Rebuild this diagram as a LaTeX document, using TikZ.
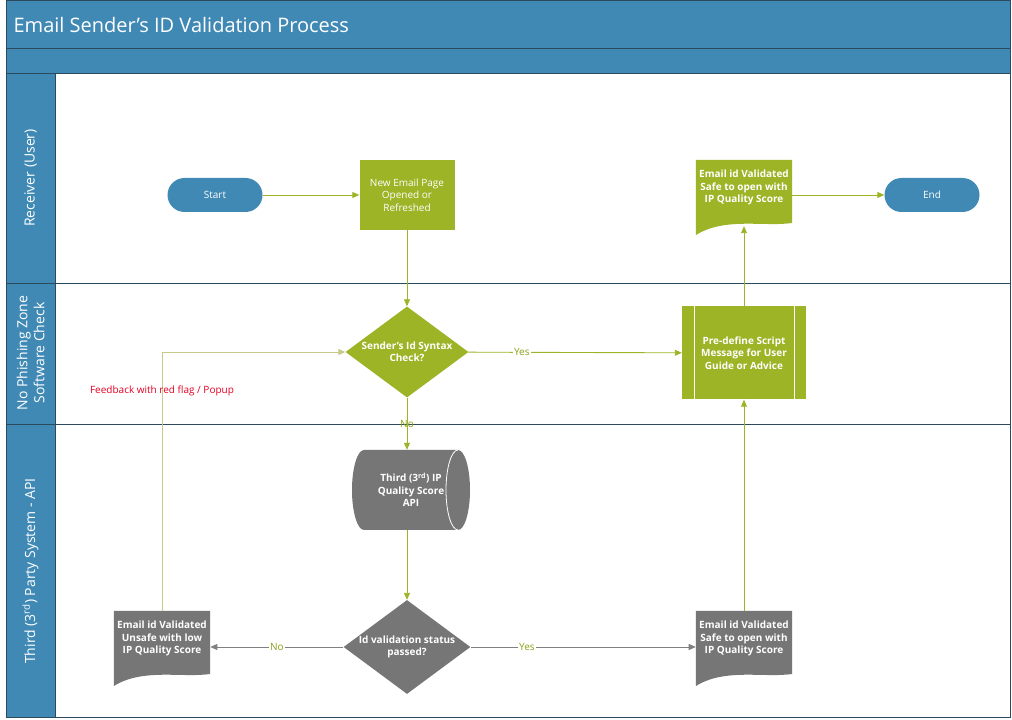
\documentclass[tikz,border=0pt]{standalone}
\usepackage{fontspec}
\setmainfont{Open Sans}
\usetikzlibrary{shapes.geometric,arrows.meta,calc}

\definecolor{laneblue}{RGB}{64,137,181}
\definecolor{laneline}{RGB}{44,74,94}
\definecolor{stepgreen}{RGB}{156,180,38}
\definecolor{stepgray}{RGB}{118,118,118}
\definecolor{linegray}{RGB}{128,128,128}
\definecolor{paleolive}{RGB}{199,201,138}
\definecolor{labelgreen}{RGB}{138,160,20}
\definecolor{flagred}{RGB}{228,0,34}

\tikzset{
  boxfont/.style={font=\fontsize{10}{12.5}\selectfont},
  boldfont/.style={font=\fontsize{10}{12.5}\selectfont\bfseries},
  terminal/.style={rectangle, rounded corners=17pt, fill=laneblue, text=white,
    minimum width=95pt, minimum height=34pt, boxfont},
  process/.style={rectangle, fill=stepgreen, text=white, align=center,
    minimum width=95pt, minimum height=70pt, boxfont},
  decision/.style={diamond, fill=#1, text=white, align=center, inner sep=0pt,
    shape aspect=1.35, minimum width=123pt, minimum height=91pt, boldfont},
  predef/.style={rectangle, fill=stepgreen, text=white, align=center,
    minimum width=124pt, minimum height=93pt, boldfont,
    path picture={
      \draw[white, line width=0.8pt]
        ($(path picture bounding box.north west)+(12pt,0)$) -- ($(path picture bounding box.south west)+(12pt,0)$)
        ($(path picture bounding box.north east)+(-12pt,0)$) -- ($(path picture bounding box.south east)+(-12pt,0)$);
    }},
  document/.style={rectangle, draw=none, text=white, align=center, text depth=22pt,
    minimum width=95pt, minimum height=75pt, boldfont,
    path picture={
      \fill[#1] let \p1=(path picture bounding box.south west),
                    \p2=(path picture bounding box.north east) in
        (\x1,\y2) -- (\x2,\y2) -- (\x2,\y1+12pt)
        .. controls (\x1+0.7*\x2-0.7*\x1,\y1+8pt) and (\x1+0.3*\x2-0.3*\x1,\y1+18pt) .. (\x1,\y1)
        -- cycle;
    }},
  datastore/.style={rectangle, draw=none, text=white, align=center,
    minimum width=118pt, minimum height=80pt, boldfont,
    path picture={
      \fill[stepgray] let \p1=(path picture bounding box.south west),
                          \p2=(path picture bounding box.north east) in
        (\x1+12pt,\y2) -- (\x2-12pt,\y2)
        arc[start angle=90, end angle=-90, x radius=12pt, y radius={(\y2-\y1)/2}]
        -- (\x1+12pt,\y1)
        arc[start angle=270, end angle=90, x radius=12pt, y radius={(\y2-\y1)/2}]
        -- cycle;
      \draw[white, line width=0.8pt] let \p1=(path picture bounding box.south west),
                          \p2=(path picture bounding box.north east) in
        (\x2-12pt,\y2)
        arc[start angle=90, end angle=270, x radius=12pt, y radius={(\y2-\y1)/2}];
    }},
  lanetext/.style={rotate=90, text=white, align=center,
    font=\fontsize{14}{17}\selectfont},
  flow/.style={draw=stepgreen, line width=0.9pt, -{Triangle[length=7pt,width=6pt]}},
  lbl/.style={text=labelgreen, fill=white, inner sep=1pt, font=\fontsize{10}{12}\selectfont},
}

\begin{document}
\begin{tikzpicture}[x=1pt, y=1pt]
  \useasboundingbox (0,0) rectangle (1012,720);
  \fill[white] (0,0) rectangle (1012,720);

  % Draw the header bars and lane column
  \fill[laneblue] (6,647) rectangle (1010,719);
  \fill[laneblue] (6,2) rectangle (55,647);
  \draw[laneline, line width=0.8pt] (6,672) -- (1010,672);
  \draw[laneline, line width=0.8pt] (6,647) -- (1010,647);
  \draw[laneline, line width=0.8pt] (55,2) -- (55,647);
  \draw[laneline, line width=0.8pt] (6,437) -- (1010,437);
  \draw[laneline, line width=0.8pt] (6,296) -- (1010,296);
  \draw[laneline, line width=1pt] (6,2) rectangle (1010,719);

  % Add title and lane names
  \node[anchor=west, text=white, font=\fontsize{20}{24}\selectfont] (title) at (10,695)
    {Email Sender’s ID Validation Process};
  \node[lanetext] (receiver) at (30.5,542) {Receiver (User)};
  \node[lanetext] (nophish) at (30.5,367) {No Phishing Zone\\Software Check};
  \node[lanetext] (thirdparty) at (30.5,149) {Third (3\textsuperscript{rd}) Party System - API};

  % Receiver lane
  \node[terminal] (start) at (215,525) {Start};
  \node[process] (newpage) at (407,525) {New Email Page\\Opened or\\Refreshed};
  \node[document=stepgreen] (safetop) at (744,522.5) {Email id Validated\\Safe to open with\\IP Quality Score};
  \node[terminal] (end) at (932,525) {End};

  % Software check lane
  \node[decision=stepgreen] (syntax) at (407,368) {Sender’s Id Syntax\\Check?};
  \node[predef] (script) at (744,367) {Pre-define Script\\Message for User\\Guide or Advice};

  % Third party lane
  \node[datastore] (api) at (411,230) {Third (3\textsuperscript{rd}) IP\\Quality Score\\API};
  \node[decision=stepgray] (status) at (407,73) {Id validation status\\passed?};
  \node[document=stepgray] (unsafe) at (162,71.5) {Email id Validated\\Unsafe with low\\IP Quality Score};
  \node[document=stepgray] (safe) at (744,71.5) {Email id Validated\\Safe to open with\\IP Quality Score};

  % Connectors
  \draw[flow] (start) -- (newpage);
  \draw[flow] (newpage) -- (syntax);
  \draw[flow] (syntax) -- node[lbl, pos=0.25] {Yes} (script);
  \draw[flow] (syntax.south) -- node[lbl, fill=none] {No} (syntax.south |- api.north);
  \draw[flow] (api.south -| status.north) -- (status.north);
  \draw[flow, draw=linegray] (status.west) -- node[lbl] {No} (status.west -| unsafe.east);
  \draw[flow, draw=linegray] (status.east) -- node[lbl, pos=0.25] {Yes} (status.east -| safe.west);
  \draw[flow] (safe.north) -- (script.south);
  \draw[flow] (script.north) -- ($(safetop.south)+(0,9)$);
  \draw[flow] (safetop.east |- end.west) -- (end.west);
  \draw[flow, draw=paleolive] (unsafe.north) |- node[pos=0.425, text=flagred, font=\fontsize{10}{12}\selectfont] {Feedback with red flag / Popup} (syntax.west);
\end{tikzpicture}
\end{document}
